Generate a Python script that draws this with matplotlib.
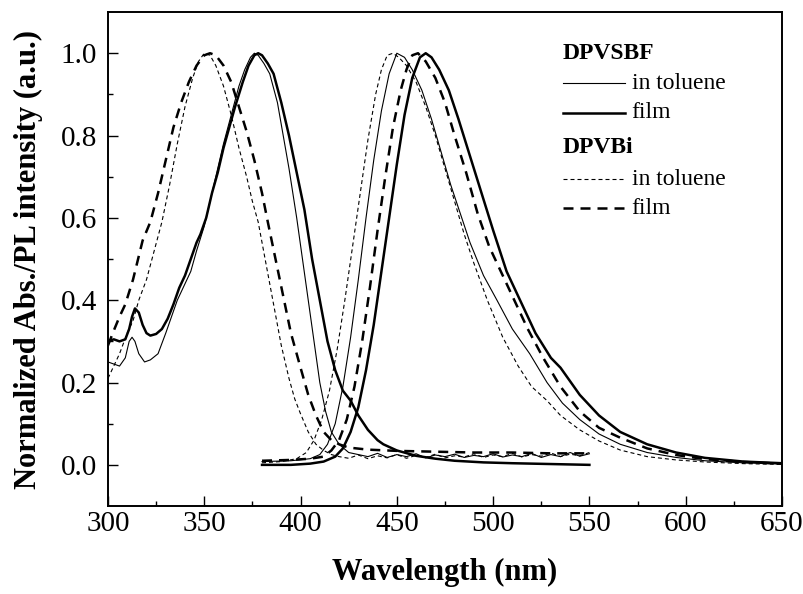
import numpy as np
import matplotlib
matplotlib.use("Agg")
import matplotlib.pyplot as plt

plt.rcParams['font.family'] = ['Liberation Serif', 'DejaVu Serif']

# --- absorption spectra (300-550 nm) ---
sbf_sol_abs_x = [300, 303, 306, 309, 311, 312.5, 314, 316, 319, 322, 326, 330, 333, 336, 340,
                 343, 346, 348, 350, 353, 356, 360, 364, 368, 371, 374, 376, 378, 381, 384,
                 388, 391, 394, 398, 401, 404, 407, 410, 413, 416, 420, 425, 430, 435, 440,
                 445, 450, 455, 460, 465, 470, 475, 480, 485, 490, 495, 500, 505, 510, 515,
                 520, 525, 530, 535, 540, 545, 550]
sbf_sol_abs_y = [0.25, 0.245, 0.24, 0.26, 0.30, 0.31, 0.30, 0.27, 0.25, 0.255, 0.27, 0.32, 0.36,
                 0.40, 0.44, 0.47, 0.52, 0.55, 0.58, 0.64, 0.70, 0.78, 0.85, 0.92, 0.96, 0.99,
                 1.0, 0.995, 0.975, 0.95, 0.88, 0.80, 0.72, 0.60, 0.50, 0.40, 0.30, 0.20, 0.13,
                 0.08, 0.05, 0.03, 0.025, 0.02, 0.028, 0.018, 0.025, 0.02, 0.027, 0.017, 0.024,
                 0.02, 0.026, 0.018, 0.023, 0.02, 0.027, 0.019, 0.024, 0.02, 0.028, 0.018,
                 0.025, 0.02, 0.03, 0.021, 0.027]

sbf_film_abs_x = [300, 303, 306, 309, 311, 312.5, 314, 316, 318, 320, 322, 325, 328, 331, 334,
                  337, 340, 343, 346, 348, 351, 354, 357, 360, 363, 366, 370, 373, 376, 378,
                  380, 383, 386, 390, 394, 398, 402, 406, 410, 414, 418, 422, 426, 430, 435,
                  440, 443, 450, 460, 470, 480, 495, 510, 530, 550]
sbf_film_abs_y = [0.30, 0.305, 0.30, 0.305, 0.33, 0.36, 0.38, 0.37, 0.34, 0.32, 0.314, 0.318,
                  0.33, 0.355, 0.39, 0.43, 0.46, 0.50, 0.54, 0.56, 0.60, 0.66, 0.71, 0.77, 0.82,
                  0.87, 0.93, 0.97, 0.995, 1.0, 0.995, 0.975, 0.95, 0.88, 0.80, 0.71, 0.62, 0.50,
                  0.40, 0.30, 0.23, 0.18, 0.156, 0.12, 0.085, 0.06, 0.05, 0.035, 0.022, 0.015,
                  0.01, 0.006, 0.004, 0.002, 0.0]

bi_sol_abs_x = [300, 303, 306, 310, 313, 316, 320, 324, 328, 332, 336, 340, 344, 347, 350, 353,
                356, 360, 364, 368, 372, 375, 378, 382, 386, 390, 394, 397, 400, 404, 408, 412,
                416, 420, 425, 430, 435, 440, 445, 450, 455, 460, 465, 470, 475, 480, 485, 490,
                495, 500, 505, 510, 515, 520, 525, 530, 535, 540, 545, 550]
bi_sol_abs_y = [0.21, 0.24, 0.27, 0.32, 0.35, 0.40, 0.45, 0.52, 0.59, 0.68, 0.78, 0.87, 0.94,
                0.98, 1.0, 0.995, 0.97, 0.92, 0.85, 0.77, 0.70, 0.64, 0.59, 0.49, 0.39, 0.29,
                0.21, 0.16, 0.124, 0.08, 0.05, 0.035, 0.025, 0.02, 0.016, 0.024, 0.015, 0.022,
                0.017, 0.025, 0.016, 0.023, 0.018, 0.026, 0.017, 0.022, 0.019, 0.027, 0.018,
                0.024, 0.02, 0.028, 0.019, 0.025, 0.021, 0.029, 0.02, 0.026, 0.022, 0.03]

bi_film_abs_x = [300, 303, 306, 309, 313, 318, 322, 326, 330, 334, 338, 342, 346, 350, 353, 356,
                 360, 364, 368, 372, 376, 380, 383, 387, 391, 395, 400, 404, 408, 412, 416, 420,
                 425, 435, 450, 470, 490, 510, 530, 550]
bi_film_abs_y = [0.29, 0.326, 0.36, 0.39, 0.45, 0.545, 0.59, 0.66, 0.74, 0.82, 0.88, 0.93, 0.97,
                 0.995, 1.0, 0.995, 0.97, 0.93, 0.87, 0.81, 0.74, 0.66, 0.59, 0.50, 0.41, 0.32,
                 0.236, 0.17, 0.12, 0.08, 0.06, 0.05, 0.042, 0.037, 0.034, 0.032, 0.03, 0.03,
                 0.028, 0.028]

# --- PL spectra (380-650 nm) ---
bi_sol_pl_x = [380, 390, 398, 403, 407, 411, 415, 419, 423, 427, 431, 435, 439, 442, 445, 448,
               451, 455, 460, 465, 470, 475, 480, 485, 490, 497, 505, 513, 520, 528, 535, 545,
               555, 566, 580, 595, 610, 630, 650]
bi_sol_pl_y = [0.005, 0.008, 0.015, 0.03, 0.06, 0.11, 0.18, 0.28, 0.40, 0.53, 0.66, 0.79, 0.90,
               0.96, 0.995, 1.0, 0.99, 0.97, 0.93, 0.87, 0.80, 0.72, 0.64, 0.56, 0.49, 0.40,
               0.31, 0.24, 0.19, 0.156, 0.12, 0.085, 0.058, 0.036, 0.02, 0.012, 0.007, 0.003,
               0.001]

sbf_sol_pl_x = [380, 395, 405, 410, 414, 418, 422, 426, 430, 434, 438, 442, 446, 450, 454, 458,
                463, 468, 473, 478, 483, 488, 495, 502, 510, 519, 528, 536, 545, 555, 566, 580,
                595, 610, 630, 650]
sbf_sol_pl_y = [0.008, 0.01, 0.015, 0.025, 0.05, 0.10, 0.19, 0.31, 0.45, 0.60, 0.74, 0.86, 0.95,
                1.0, 0.99, 0.96, 0.91, 0.84, 0.76, 0.68, 0.61, 0.54, 0.46, 0.40, 0.33, 0.27,
                0.20, 0.15, 0.11, 0.075, 0.05, 0.03, 0.018, 0.01, 0.005, 0.002]

bi_film_pl_x = [380, 395, 405, 412, 416, 420, 424, 428, 432, 436, 440, 444, 448, 452, 455, 458,
                461, 465, 470, 475, 480, 486, 492, 498, 504, 511, 518, 526, 535, 545, 555, 566,
                580, 595, 610, 630, 650]
bi_film_pl_y = [0.01, 0.012, 0.015, 0.02, 0.035, 0.06, 0.11, 0.19, 0.30, 0.43, 0.57, 0.70, 0.82,
                0.91, 0.96, 0.995, 1.0, 0.98, 0.94, 0.88, 0.80, 0.71, 0.61, 0.53, 0.47, 0.40,
                0.33, 0.26, 0.19, 0.13, 0.09, 0.066, 0.04, 0.024, 0.014, 0.007, 0.003]

sbf_film_pl_x = [380, 395, 405, 412, 418, 422, 426, 430, 434, 438, 442, 446, 450, 454, 458, 462,
                 465, 468, 472, 477, 482, 488, 494, 500, 507, 514, 522, 530, 535, 545, 555, 566,
                 580, 595, 610, 630, 650]
sbf_film_pl_y = [0.0, 0.0, 0.003, 0.008, 0.02, 0.04, 0.08, 0.14, 0.23, 0.34, 0.47, 0.60, 0.73,
                 0.85, 0.94, 0.99, 1.0, 0.99, 0.96, 0.91, 0.84, 0.75, 0.66, 0.57, 0.47, 0.40,
                 0.32, 0.26, 0.236, 0.17, 0.12, 0.08, 0.05, 0.03, 0.017, 0.008, 0.004]

# line styles
thin = dict(color='black', lw=0.8)
thick = dict(color='black', lw=1.8)
thin_dash = dict(color='black', lw=0.8, dashes=(3.6, 2.7))
thick_dash = dict(color='black', lw=1.8, dashes=(4, 2.8))

fig = plt.figure(figsize=(8.04, 5.94), dpi=100)
ax = fig.add_axes([0.1343, 0.1481, 0.8383, 0.8316])

ax.plot(sbf_sol_abs_x, sbf_sol_abs_y, **thin)
ax.plot(sbf_sol_pl_x, sbf_sol_pl_y, **thin)
ax.plot(sbf_film_abs_x, sbf_film_abs_y, **thick)
ax.plot(sbf_film_pl_x, sbf_film_pl_y, **thick)
ax.plot(bi_sol_abs_x, bi_sol_abs_y, **thin_dash)
ax.plot(bi_sol_pl_x, bi_sol_pl_y, **thin_dash)
ax.plot(bi_film_abs_x, bi_film_abs_y, **thick_dash)
ax.plot(bi_film_pl_x, bi_film_pl_y, **thick_dash)

ax.set_xlim(300, 650)
ax.set_ylim(-0.1, 1.1)
ax.set_xticks(np.arange(300, 651, 50))
ax.set_xticks(np.arange(325, 650, 50), minor=True)
ax.set_yticks(np.arange(0, 1.01, 0.2))
ax.set_yticks(np.arange(0.1, 1.0, 0.2), minor=True)
ax.set_yticklabels(['0.0', '0.2', '0.4', '0.6', '0.8', '1.0'])

ax.tick_params(which='both', direction='in', top=False, right=False, width=1.0, labelsize=21)
ax.tick_params(which='major', length=7)
ax.tick_params(which='minor', length=3.6)
ax.tick_params(axis='y', pad=8)
for sp in ax.spines.values():
    sp.set_linewidth(1.4)

ax.set_xlabel('Wavelength (nm)', fontsize=22, fontweight='bold')
ax.set_ylabel('Normalized Abs./PL intensity (a.u.)', fontsize=22, fontweight='bold')
ax.xaxis.set_label_coords(0.5, -0.105)
ax.yaxis.set_label_coords(-0.096, 0.5)

# hand-made legend with group headings
lx0, lx1, tx = 0.675, 0.767, 0.777
ax.text(lx0, 0.917, 'DPVSBF', transform=ax.transAxes, fontsize=17, fontweight='bold', va='center')
ax.plot([lx0, lx1], [0.856, 0.856], transform=ax.transAxes, **thin)
ax.text(tx, 0.856, 'in toluene', transform=ax.transAxes, fontsize=17, va='center')
ax.plot([lx0, lx1], [0.796, 0.796], transform=ax.transAxes, **thick)
ax.text(tx, 0.796, 'film', transform=ax.transAxes, fontsize=17, va='center')
ax.text(lx0, 0.725, 'DPVBi', transform=ax.transAxes, fontsize=17, fontweight='bold', va='center')
ax.plot([lx0, lx1], [0.662, 0.662], transform=ax.transAxes, **thin_dash)
ax.text(tx, 0.662, 'in toluene', transform=ax.transAxes, fontsize=17, va='center')
ax.plot([lx0, lx1], [0.603, 0.603], transform=ax.transAxes, **thick_dash)
ax.text(tx, 0.603, 'film', transform=ax.transAxes, fontsize=17, va='center')

fig.savefig('out.png', dpi=100)
